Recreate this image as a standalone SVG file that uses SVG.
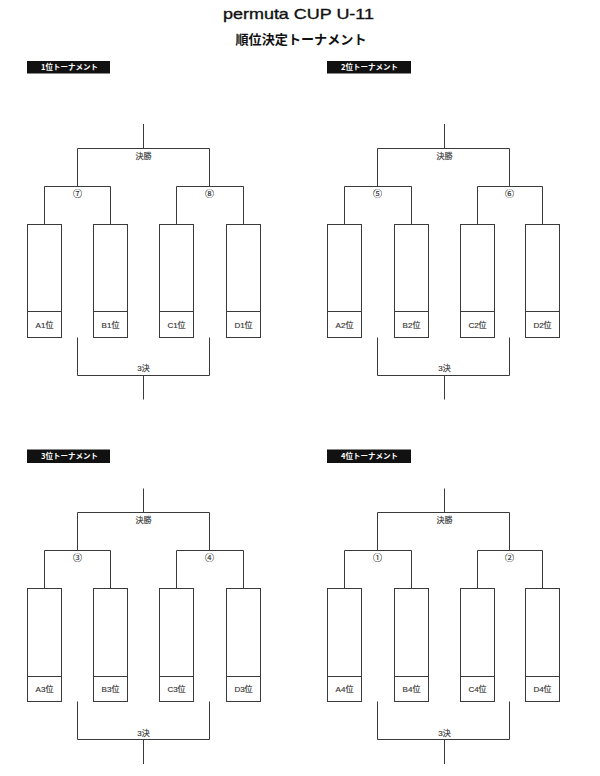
<svg xmlns="http://www.w3.org/2000/svg" width="600" height="776" viewBox="0 0 600 776">
<style>
.bg{fill:#fff}
.ln{fill:none;stroke:#3a3a3a;stroke-width:1}
.box{fill:#fff;stroke:#3a3a3a;stroke-width:1}
.tag{fill:#111}
.tagt{font-family:"Noto Sans CJK JP",sans-serif;font-size:7.5px;font-weight:bold;fill:#fff;text-anchor:middle}
.t{font-family:"Liberation Sans","Noto Sans CJK JP",sans-serif;font-size:8px;fill:#333;text-anchor:middle;stroke:#333;stroke-width:0.15}
.c{font-family:"Noto Sans CJK JP",sans-serif;font-size:9px;fill:#333;text-anchor:middle;stroke:#333;stroke-width:0.15}
.title{font-family:"Liberation Sans","Noto Sans CJK JP",sans-serif;font-size:15px;fill:#111;text-anchor:middle;stroke:#111;stroke-width:0.35}
.sub{font-family:"Noto Sans CJK JP",sans-serif;font-size:13px;font-weight:bold;fill:#111;text-anchor:middle}
</style>
<rect class="bg" x="0" y="0" width="600" height="776"/>

<g id="title"><text class="title" x="298.5" y="19" textLength="151" lengthAdjust="spacingAndGlyphs">permuta CUP U-11</text></g>
<g id="subtitle"><text class="sub" x="301" y="43.5" textLength="131" lengthAdjust="spacingAndGlyphs">順位決定トーナメント</text></g>

<g id="connectors">
<path class="ln" d="M143.5 124V148.5M77.5 148.5H209.5M77.5 148.5V186.5M209.5 148.5V186.5M44.5 186.5H110.5M176.5 186.5H243.5M44.5 186.5V224.5M110.5 186.5V224.5M176.5 186.5V224.5M243.5 186.5V224.5M77.5 337.5V375.5H209.5V337.5M143.5 375.5V399.5"/>
<path class="ln" d="M444.5 124V148.5M377.5 148.5H509.5M377.5 148.5V186.5M509.5 148.5V186.5M344.5 186.5H411.5M477.5 186.5H542.5M344.5 186.5V224.5M411.5 186.5V224.5M477.5 186.5V224.5M542.5 186.5V224.5M377.5 337.5V375.5H509.5V337.5M444.5 375.5V399.5"/>
<path class="ln" d="M143.5 488.5V512.5M77.5 512.5H209.5M77.5 512.5V550.5M209.5 512.5V550.5M44.5 550.5H110.5M176.5 550.5H243.5M44.5 550.5V588.5M110.5 550.5V588.5M176.5 550.5V588.5M243.5 550.5V588.5M77.5 701.5V739.5H209.5V701.5M143.5 739.5V764"/>
<path class="ln" d="M444.5 488.5V512.5M377.5 512.5H509.5M377.5 512.5V550.5M509.5 512.5V550.5M344.5 550.5H411.5M477.5 550.5H542.5M344.5 550.5V588.5M411.5 550.5V588.5M477.5 550.5V588.5M542.5 550.5V588.5M377.5 701.5V739.5H509.5V701.5M444.5 739.5V764"/>
</g>

<!-- 1位トーナメント -->
<g id="tag1"><rect class="tag" x="27" y="61" width="83" height="12.5"/><text class="tagt" x="69.5" y="70">1位トーナメント</text></g>
<g id="final1"><text class="t" x="143.5" y="159">決勝</text></g>
<g id="m7"><text class="c" x="77.5" y="196.5">⑦</text></g>
<g id="m8"><text class="c" x="209.5" y="196.5">⑧</text></g>
<g id="A1"><rect class="box" x="27.5" y="224.5" width="34" height="113"/><path class="ln" d="M27.5 311.5H61.5"/><text class="t" x="44.5" y="328">A1位</text></g>
<g id="B1"><rect class="box" x="93.5" y="224.5" width="34" height="113"/><path class="ln" d="M93.5 311.5H127.5"/><text class="t" x="110.5" y="328">B1位</text></g>
<g id="C1"><rect class="box" x="159.5" y="224.5" width="34" height="113"/><path class="ln" d="M159.5 311.5H193.5"/><text class="t" x="176.5" y="328">C1位</text></g>
<g id="D1"><rect class="box" x="226.5" y="224.5" width="34" height="113"/><path class="ln" d="M226.5 311.5H260.5"/><text class="t" x="243.5" y="328">D1位</text></g>
<g id="third1"><text class="t" x="143.5" y="371">3決</text></g>

<!-- 2位トーナメント -->
<g id="tag2"><rect class="tag" x="327" y="61" width="84" height="12.5"/><text class="tagt" x="369.5" y="70">2位トーナメント</text></g>
<g id="final2"><text class="t" x="444.5" y="159">決勝</text></g>
<g id="m5"><text class="c" x="377.5" y="196.5">⑤</text></g>
<g id="m6"><text class="c" x="509.5" y="196.5">⑥</text></g>
<g id="A2"><rect class="box" x="327.5" y="224.5" width="34" height="113"/><path class="ln" d="M327.5 311.5H361.5"/><text class="t" x="344.5" y="328">A2位</text></g>
<g id="B2"><rect class="box" x="394.5" y="224.5" width="34" height="113"/><path class="ln" d="M394.5 311.5H428.5"/><text class="t" x="411.5" y="328">B2位</text></g>
<g id="C2"><rect class="box" x="460.5" y="224.5" width="34" height="113"/><path class="ln" d="M460.5 311.5H494.5"/><text class="t" x="477.5" y="328">C2位</text></g>
<g id="D2"><rect class="box" x="525.5" y="224.5" width="34" height="113"/><path class="ln" d="M525.5 311.5H559.5"/><text class="t" x="542.5" y="328">D2位</text></g>
<g id="third2"><text class="t" x="444.5" y="371">3決</text></g>

<!-- 3位トーナメント -->
<g id="tag3"><rect class="tag" x="27" y="449.5" width="83" height="13.5"/><text class="tagt" x="69.5" y="459">3位トーナメント</text></g>
<g id="final3"><text class="t" x="143.5" y="523">決勝</text></g>
<g id="m3"><text class="c" x="77.5" y="560.5">③</text></g>
<g id="m4"><text class="c" x="209.5" y="560.5">④</text></g>
<g id="A3"><rect class="box" x="27.5" y="588.5" width="34" height="113"/><path class="ln" d="M27.5 676.5H61.5"/><text class="t" x="44.5" y="692">A3位</text></g>
<g id="B3"><rect class="box" x="93.5" y="588.5" width="34" height="113"/><path class="ln" d="M93.5 676.5H127.5"/><text class="t" x="110.5" y="692">B3位</text></g>
<g id="C3"><rect class="box" x="159.5" y="588.5" width="34" height="113"/><path class="ln" d="M159.5 676.5H193.5"/><text class="t" x="176.5" y="692">C3位</text></g>
<g id="D3"><rect class="box" x="226.5" y="588.5" width="34" height="113"/><path class="ln" d="M226.5 676.5H260.5"/><text class="t" x="243.5" y="692">D3位</text></g>
<g id="third3"><text class="t" x="143.5" y="736">3決</text></g>

<!-- 4位トーナメント -->
<g id="tag4"><rect class="tag" x="327" y="449.5" width="84" height="13.5"/><text class="tagt" x="369.5" y="459">4位トーナメント</text></g>
<g id="final4"><text class="t" x="444.5" y="523">決勝</text></g>
<g id="m1"><text class="c" x="377.5" y="560.5">①</text></g>
<g id="m2"><text class="c" x="509.5" y="560.5">②</text></g>
<g id="A4"><rect class="box" x="327.5" y="588.5" width="34" height="113"/><path class="ln" d="M327.5 676.5H361.5"/><text class="t" x="344.5" y="692">A4位</text></g>
<g id="B4"><rect class="box" x="394.5" y="588.5" width="34" height="113"/><path class="ln" d="M394.5 676.5H428.5"/><text class="t" x="411.5" y="692">B4位</text></g>
<g id="C4"><rect class="box" x="460.5" y="588.5" width="34" height="113"/><path class="ln" d="M460.5 676.5H494.5"/><text class="t" x="477.5" y="692">C4位</text></g>
<g id="D4"><rect class="box" x="525.5" y="588.5" width="34" height="113"/><path class="ln" d="M525.5 676.5H559.5"/><text class="t" x="542.5" y="692">D4位</text></g>
<g id="third4"><text class="t" x="444.5" y="736">3決</text></g>
</svg>
